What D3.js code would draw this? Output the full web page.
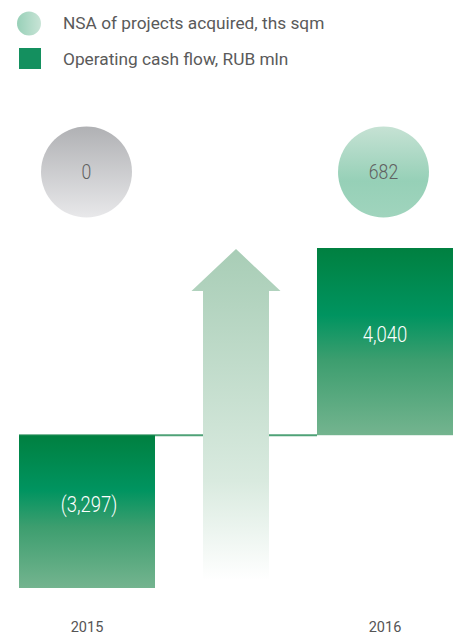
<!DOCTYPE html>
<html><head><meta charset="utf-8">
<script src="https://cdn.jsdelivr.net/npm/d3@7/dist/d3.min.js"></script>
<style>body{margin:0;background:#fff}svg{display:block}</style>
</head><body>
<svg id="c" width="453" height="637"></svg>
<script>
const years = ["2015", "2016"];
const cashFlow = [-3297, 4040];
const cashLabels = ["(3,297)", "4,040"];
const nsaAcquired = [0, 682];
const legendLabels = ["NSA of projects acquired, ths sqm", "Operating cash flow, RUB mln"];

const svg = d3.select("#c");
const defs = svg.append("defs");
function grad(id, stops){
  const g = defs.append("linearGradient").attr("id", id).attr("x1",0).attr("y1",0).attr("x2",0).attr("y2",1);
  stops.forEach(s => g.append("stop").attr("offset", s[0]).attr("stop-color", s[1]));
}
grad("barG", [[0,"#008040"],[0.36,"#009460"],[0.6,"#3d9e6f"],[1,"#74b48f"]]);
grad("grayG", [[0,"#b0b1b4"],[1,"#e8e8ea"]]);
grad("greenC", [[0,"#c6e2d4"],[0.6,"#96d0b7"],[1,"#a0d4bd"]]);
grad("arrowG", [[0,"#a8cdb6"],[0.7,"#d9eadf"],[1,"#ffffff"]]);
const legG = defs.append("linearGradient").attr("id","legC");
legG.append("stop").attr("offset",0).attr("stop-color","#98d0b8");
legG.append("stop").attr("offset",1).attr("stop-color","#c8e4d6");

const x = d3.scaleBand().domain(years).range([19, 453]).paddingInner(0.5436).paddingOuter(0);
const y = d3.scaleLinear().domain([-3297, 4040]).range([588, 248]);
const bw = x.bandwidth();

// legend
const leg = svg.append("g");
leg.append("circle").attr("cx", 29).attr("cy", 23.5).attr("r", 12).attr("fill", "url(#legC)");
leg.append("rect").attr("x", 19).attr("y", 48).attr("width", 22).attr("height", 21).attr("fill", "#14905f");
leg.selectAll("text").data(legendLabels).join("text")
  .attr("x", 63).attr("y", (d,i) => 29 + i*36)
  .attr("font-family", "Roboto, sans-serif").attr("font-size", 17.3).attr("fill", "#5a5a5a")
  .text(d => d);

// zero line
svg.append("line").attr("x1", x("2015")).attr("x2", x("2016")).attr("y1", y(0)).attr("y2", y(0))
  .attr("stroke", "#4fa277").attr("stroke-width", 2);

// arrow
const ax = (x("2015") + bw + x("2016")) / 2;
const arrowPath = d3.path();
arrowPath.moveTo(ax, 249);
arrowPath.lineTo(ax + 44.5, 291);
arrowPath.lineTo(ax + 33, 291);
arrowPath.lineTo(ax + 33, 580);
arrowPath.lineTo(ax - 33, 580);
arrowPath.lineTo(ax - 33, 291);
arrowPath.lineTo(ax - 44.5, 291);
arrowPath.closePath();
svg.append("path").attr("d", arrowPath.toString()).attr("fill", "url(#arrowG)");

// bars
svg.selectAll("rect.bar").data(cashFlow).join("rect").attr("class","bar")
  .attr("x", (d,i) => x(years[i])).attr("width", bw)
  .attr("y", d => y(Math.max(0, d))).attr("height", d => Math.abs(y(d) - y(0)))
  .attr("fill", "url(#barG)");
svg.selectAll("text.val").data(cashFlow).join("text").attr("class","val")
  .attr("transform", (d,i) => `translate(${x(years[i]) + bw/2 + (i===0?2:0)},${(y(Math.max(0,d)) + y(Math.min(0,d)))/2 - 7}) scale(0.84,1)`)
  .attr("text-anchor", "middle").attr("dominant-baseline", "central")
  .attr("font-family", "Roboto, sans-serif").attr("font-weight", 300).attr("font-size", 22)
  .attr("fill", "#fff").text((d,i) => cashLabels[i]);

// circles
const cy = 172, cr = 45.5;
const cxs = (d,i) => x(years[i]) + bw/2 - (i===0 ? 0.5 : 1.5);
svg.selectAll("circle.nsa").data(nsaAcquired).join("circle").attr("class","nsa")
  .attr("cx", cxs).attr("cy", cy).attr("r", cr)
  .attr("fill", d => d > 0 ? "url(#greenC)" : "url(#grayG)");
svg.selectAll("text.nsaT").data(nsaAcquired).join("text").attr("class","nsaT")
  .attr("transform", (d,i) => `translate(${cxs(d,i)},${cy}) scale(0.84,1)`)
  .attr("text-anchor", "middle").attr("dominant-baseline", "central")
  .attr("font-family", "Roboto, sans-serif").attr("font-weight", 300).attr("font-size", 21)
  .attr("fill", "#606060").text(d => d3.format(",")(d));

// year labels
svg.selectAll("text.yr").data(years).join("text").attr("class","yr")
  .attr("x", d => x(d) + bw/2).attr("y", 632)
  .attr("text-anchor", "middle")
  .attr("font-family", "Roboto, sans-serif").attr("font-size", 14.5).attr("fill", "#555")
  .text(d => d);
</script>
</body></html>
